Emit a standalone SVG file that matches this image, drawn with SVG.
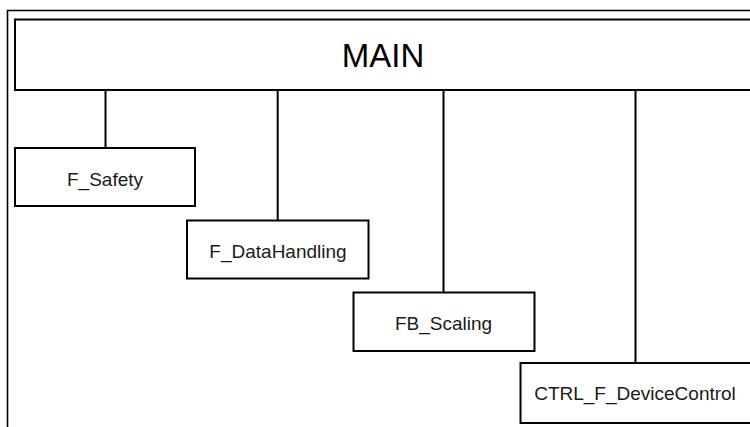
<svg xmlns="http://www.w3.org/2000/svg" width="750" height="427" viewBox="0 0 750 427">
<style>
.box{fill:#fff;stroke:#000;stroke-width:2}
.lbl{font-family:"Liberation Sans",Arial,sans-serif;font-size:19px;fill:#1a1a1a;text-anchor:middle}
.conn{stroke:#000;stroke-width:2;fill:none}
</style>
<rect width="750" height="427" fill="#fff"/>
<g id="frame">
<path d="M7.5,427 V10.5 H760" fill="none" stroke="#000" stroke-width="1.6"/>
</g>
<g id="connectors">
<line class="conn" x1="105.5" y1="90" x2="105.5" y2="148"/>
<line class="conn" x1="277.7" y1="90" x2="277.7" y2="220.5"/>
<line class="conn" x1="443.5" y1="90" x2="443.5" y2="292"/>
<line class="conn" x1="635.5" y1="90" x2="635.5" y2="363"/>
</g>
<g id="main">
<rect class="box" x="15" y="19.5" width="745" height="70.5"/>
<text x="383" y="67" style="font-family:'Liberation Sans',Arial,sans-serif;font-size:33px;fill:#000;text-anchor:middle">MAIN</text>
</g>
<g id="f_safety">
<rect class="box" x="15" y="148" width="180" height="58"/>
<text class="lbl" x="105" y="186">F_Safety</text>
</g>
<g id="f_datahandling">
<rect class="box" x="187" y="220.5" width="181.5" height="58"/>
<text class="lbl" x="278" y="258">F_DataHandling</text>
</g>
<g id="fb_scaling">
<rect class="box" x="353.5" y="292.5" width="181" height="58.5"/>
<text class="lbl" x="443.5" y="330">FB_Scaling</text>
</g>
<g id="ctrl_f_devicecontrol">
<rect class="box" x="520.5" y="363" width="240" height="60"/>
<text class="lbl" x="635" y="400">CTRL_F_DeviceControl</text>
</g>
</svg>
